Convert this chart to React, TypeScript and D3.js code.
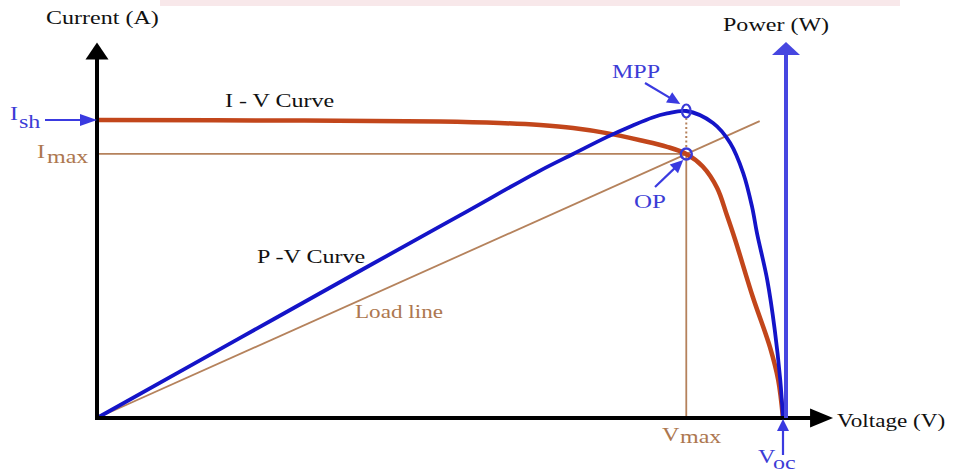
import React from "react";
import * as d3 from "d3";

// ---- data ----
const ivVoltage = [0, 30, 50, 58.7, 64.6, 69.4, 74.3, 79.2, 83.1, 85.9, 88.3, 90.4, 91.8, 93.0, 95.6, 98.1, 99.3, 100];
const ivCurrent = [5.0, 4.99, 4.975, 4.95, 4.915, 4.865, 4.78, 4.66, 4.55, 4.43, 4.22, 3.86, 3.41, 3.0, 2.03, 1.19, 0.64, 0];
const pvVoltage = [0, 20.8, 40, 52.9, 64.6, 69.4, 74.3, 78.1, 81.0, 83.1, 85.9, 89.8, 92.3, 94.2, 95.5, 96.2, 97.7, 98.8, 99.6, 100];
const pvPower = [0, 26.0, 50.0, 66.0, 80.6, 86.0, 91.5, 95.3, 97.9, 99.2, 100, 96.1, 89.6, 79.8, 68.7, 60.3, 45.0, 28.7, 12.4, 0];
const loadVoltage = [0, 96.6];
const loadCurrent = [0, 4.98];
const Isc = 5.0;
const Voc = 100;
const Vmax = 85.9;
const Imax = 4.43;
const Pmax = 100;
const axisExtent = { v: 107.3, i: 6.3, p: 122.5 };
const labels = {
  current: "Current (A)",
  power: "Power (W)",
  voltage: "Voltage (V)",
  iv: "I - V Curve",
  pv: "P -V Curve",
  load: "Load line",
  mpp: "MPP",
  op: "OP",
};

const W = 954;
const H = 473;
const BLUE_TXT = "#3c3cd6";
const BROWN = "#b5825c";
const BROWN_TXT = "#ad774f";
const ORANGE = "#c2461b";
const BLUE = "#1414c8";
const FONT = "'Liberation Serif', 'Times New Roman', serif";

function head(tx: number, ty: number, angle: number, len: number, half: number) {
  const ux = Math.cos(angle), uy = Math.sin(angle);
  const bx = tx - ux * len, by = ty - uy * len;
  const px = -uy, py = ux;
  return `M${tx},${ty}L${bx + px * half},${by + py * half}L${bx - px * half},${by - py * half}Z`;
}

function T(props: { x: number; y: number; fill?: string; size?: number; sx?: number; children: React.ReactNode }) {
  const { x, y, fill = "#111", size = 18.5, sx = 1.3, children } = props;
  return (
    <text
      transform={`translate(${x},${y}) scale(${sx},1)`}
      fontFamily={FONT}
      fontSize={size}
      fill={fill}
    >
      {children}
    </text>
  );
}

export default function App() {
  const x = d3.scaleLinear().domain([0, 100]).range([97, 783]);
  const yI = d3.scaleLinear().domain([0, 5]).range([418, 120]);
  const yP = d3.scaleLinear().domain([0, 100]).range([418, 111]);

  const ivData = ivVoltage.map((v, k) => [v, ivCurrent[k]] as [number, number]);
  const pvData = pvVoltage.map((v, k) => [v, pvPower[k]] as [number, number]);

  const ivLine = d3.line<[number, number]>().x((d) => x(d[0])).y((d) => yI(d[1])).curve(d3.curveCatmullRom.alpha(0.5));
  const pvLine = d3.line<[number, number]>().x((d) => x(d[0])).y((d) => yP(d[1])).curve(d3.curveCatmullRom.alpha(0.5));

  const x0 = x(0), y0 = yI(0);
  const vTip = x(axisExtent.v);
  const iTip = yI(axisExtent.i);
  const pTip = yP(axisExtent.p);
  const pAxisX = x(Voc) + 3;
  const opX = x(Vmax), opY = yI(Imax);
  const mppY = yP(Pmax);
  const iscY = yI(Isc);
  const vocX = x(Voc);

  const ang = (ax: number, ay: number, bx: number, by: number) => Math.atan2(by - ay, bx - ax);
  const mppFrom = [645, 83];
  const mppTo = [opX - 6, mppY - 7];
  const opFrom = [655, 187];
  const opTo = [opX - 3, opY + 6];
  const aM = ang(mppFrom[0], mppFrom[1], mppTo[0], mppTo[1]);
  const aO = ang(opFrom[0], opFrom[1], opTo[0], opTo[1]);

  return (
    <svg width={W} height={H} style={{ position: "absolute", left: 0, top: 0, background: "#fff" }}>
      <rect x={0} y={0} width={W} height={H} fill="#fff" />
      {/* faint watermark band */}
      <rect x={160} y={0} width={740} height={6} fill="#f8e8ea" />

      {/* thin guide lines */}
      <line x1={x0} y1={opY} x2={opX} y2={opY} stroke={BROWN} strokeWidth={1.8} />
      <line x1={opX} y1={opY} x2={opX} y2={y0} stroke={BROWN} strokeWidth={1.8} />
      <line x1={x(loadVoltage[0])} y1={yI(loadCurrent[0])} x2={x(loadVoltage[1])} y2={yI(loadCurrent[1])} stroke={BROWN} strokeWidth={1.8} />
      <line x1={opX} y1={mppY + 7} x2={opX} y2={opY - 6} stroke={BROWN} strokeWidth={2} strokeDasharray="2,2.5" />

      {/* curves */}
      <path d={ivLine(ivData) || ""} fill="none" stroke={ORANGE} strokeWidth={4.5} />
      <path d={pvLine(pvData) || ""} fill="none" stroke={BLUE} strokeWidth={3.8} />

      {/* axes */}
      <line x1={x0} y1={y0 + 2} x2={x0} y2={iTip + 15} stroke="#000" strokeWidth={4} />
      <path d={head(x0, iTip, -Math.PI / 2, 17, 11.5)} fill="#000" />
      <line x1={x0 - 2} y1={y0} x2={vTip - 20} y2={y0} stroke="#000" strokeWidth={4} />
      <path d={head(vTip, y0, 0, 23, 9.5)} fill="#000" />
      <line x1={pAxisX} y1={y0} x2={pAxisX} y2={pTip + 12} stroke="#4646e0" strokeWidth={4} />
      <path d={head(pAxisX, pTip, -Math.PI / 2, 13, 14)} fill="#4646e0" />

      {/* annotation arrows */}
      <line x1={45} y1={iscY} x2={84} y2={iscY} stroke="#3a3ae0" strokeWidth={2} />
      <path d={head(x0, iscY, 0, 17, 6)} fill="#3a3ae0" />
      <line x1={vocX} y1={455} x2={vocX} y2={428} stroke="#3a3ae0" strokeWidth={2.2} />
      <path d={head(vocX, y0 + 1, -Math.PI / 2, 12, 6)} fill="#3a3ae0" />
      <line x1={mppFrom[0]} y1={mppFrom[1]} x2={mppTo[0] - Math.cos(aM) * 10} y2={mppTo[1] - Math.sin(aM) * 10} stroke="#3a3ae0" strokeWidth={2.2} />
      <path d={head(mppTo[0], mppTo[1], aM, 13, 6)} fill="#3a3ae0" />
      <line x1={opFrom[0]} y1={opFrom[1]} x2={opTo[0] - Math.cos(aO) * 10} y2={opTo[1] - Math.sin(aO) * 10} stroke="#3a3ae0" strokeWidth={2.2} />
      <path d={head(opTo[0], opTo[1], aO, 13, 6)} fill="#3a3ae0" />

      {/* markers */}
      <ellipse cx={opX} cy={mppY} rx={4.3} ry={6.5} fill="none" stroke="#3a3ad8" strokeWidth={2.2} />
      <circle cx={opX} cy={opY} r={5.5} fill="none" stroke="#3a3ad8" strokeWidth={2.4} />

      {/* texts */}
      <T x={46} y={24}>{labels.current}</T>
      <T x={723} y={31}>{labels.power}</T>
      <T x={225} y={107}>{labels.iv}</T>
      <T x={257} y={263}>{labels.pv}</T>
      <T x={355} y={318} fill={BROWN_TXT} sx={1.25}>{labels.load}</T>
      <T x={612} y={78} fill={BLUE_TXT}>{labels.mpp}</T>
      <T x={634} y={208} fill={BLUE_TXT} sx={1.35}>{labels.op}</T>
      <T x={837} y={427} sx={1.25}>{labels.voltage}</T>

      <T x={10} y={120} fill={BLUE_TXT}>I</T>
      <T x={19} y={128} fill={BLUE_TXT}>sh</T>
      <T x={37} y={158} fill={BROWN_TXT}>I</T>
      <T x={47} y={163} fill={BROWN_TXT}>max</T>
      <T x={662} y={441} fill={BROWN_TXT}>V</T>
      <T x={680} y={443} fill={BROWN_TXT}>max</T>
      <T x={758} y={463} fill={BLUE_TXT}>V</T>
      <T x={773} y={469} fill={BLUE_TXT}>oc</T>
    </svg>
  );
}
